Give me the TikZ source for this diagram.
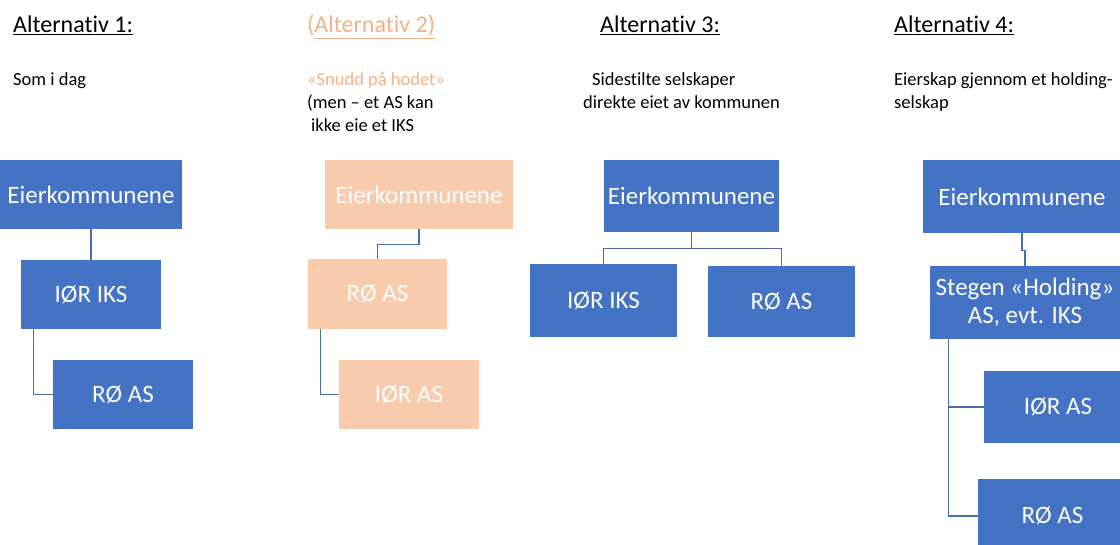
\documentclass[tikz,border=0pt]{standalone}
\usepackage{fontspec}
\setmainfont{Carlito}[Ligatures=NoCommon]
\definecolor{boxblue}{HTML}{4472C4}
\definecolor{peach}{HTML}{F8CBAD}
\definecolor{peachtext}{HTML}{F4B183}
\definecolor{linkblue}{HTML}{4A6DB0}
\tikzset{
  bluebox/.style={fill=boxblue, draw=none, text=white, inner sep=0pt, align=center, font=\fontsize{25}{28}\selectfont},
  peachbox/.style={fill=peach, draw=none, text=white, inner sep=0pt, align=center, font=\fontsize{25}{28}\selectfont},
  title/.style={anchor=base west, inner sep=0pt, font=\fontsize{24}{28}\selectfont},
  sub/.style={anchor=base west, inner sep=0pt, font=\fontsize{18.5}{23}\selectfont},
  link/.style={draw=linkblue, line width=1.2pt}
}
\begin{document}
\begin{tikzpicture}[x=1pt,y=-1pt]
\useasboundingbox (0,0) rectangle (1120,545);
\clip (0,0) rectangle (1120,545);
\fill[white] (0,0) rectangle (1120,545);

% titles
\node[title] (t1) at (13,33) {\underline{Alternativ 1:}};
\node[title, text=peachtext] (t2) at (307,33) {(\underline{Alternativ 2)}};
\node[title] (t3) at (600,33) {\underline{Alternativ 3:}};
\node[title] (t4) at (894,33) {\underline{Alternativ 4:}};

% subtitles
\node[sub] (s1) at (13,86) {Som i dag};
\node[sub, text=peachtext] (s2a) at (307,86) {«Snudd på hodet»};
\node[sub] (s2b) at (307,109) {(men – et AS kan};
\node[sub] (s2c) at (311,132) {ikke eie et IKS};
\node[sub] (s3a) at (592,86) {Sidestilte selskaper};
\node[sub] (s3b) at (583,109) {direkte eiet av kommunen};
\node[sub] (s4a) at (894,86) {Eierskap gjennom et holding-};
\node[sub] (s4b) at (894,109) {selskap};

% Alternativ 1
\node[bluebox, minimum width=182pt, minimum height=69pt] (e1) at (91,194.5) {Eierkommunene};
\node[bluebox, minimum width=140pt, minimum height=69pt] (i1) at (91,294.5) {IØR IKS};
\node[bluebox, minimum width=140pt, minimum height=69pt] (r1) at (123,394.5) {RØ AS};
\draw[link] (e1.south) -- (i1.north);
\draw[link] ([xshift=13pt]i1.south west) |- (r1.west);

% Alternativ 2
\node[peachbox, minimum width=188pt, minimum height=69pt] (e2) at (419,194.5) {Eierkommunene};
\node[peachbox, minimum width=139pt, minimum height=70pt] (r2) at (377.5,294) {RØ AS};
\node[peachbox, minimum width=140pt, minimum height=69pt] (i2) at (409,394.5) {IØR AS};
\draw[link] (e2.south) -- ++(0,15) -| (r2.north);
\draw[link] ([xshift=13pt]r2.south west) |- (i2.west);

% Alternativ 3
\node[bluebox, minimum width=175pt, minimum height=72pt] (e3) at (691.5,196) {Eierkommunene};
\node[bluebox, minimum width=147pt, minimum height=73pt] (i3) at (603.5,300.5) {IØR IKS};
\node[bluebox, minimum width=147pt, minimum height=71pt] (r3) at (781.5,301.5) {RØ AS};
\draw[link] (e3.south) -- ++(0,16) coordinate (m3);
\draw[link] (i3.north) |- (m3) -| (r3.north);

% Alternativ 4
\node[bluebox, minimum width=198pt, minimum height=73pt] (e4) at (1022,196.5) {Eierkommunene};
\node[bluebox, minimum width=190pt, minimum height=73pt] (h4) at (1025,302.5) {Stegen «Holding»\\AS, evt. IKS};
\node[bluebox, minimum width=148pt, minimum height=72pt] (i4) at (1058,407) {IØR AS};
\node[bluebox, minimum width=149pt, minimum height=74pt] (r4) at (1052.5,516) {RØ AS};
\draw[link] (e4.south) -- ++(0,17) -| (h4.north);
\draw[link] ([xshift=19pt]h4.south west) |- (r4.west);
\draw[link] ([xshift=19pt]h4.south west) |- (i4.west);
\end{tikzpicture}
\end{document}
